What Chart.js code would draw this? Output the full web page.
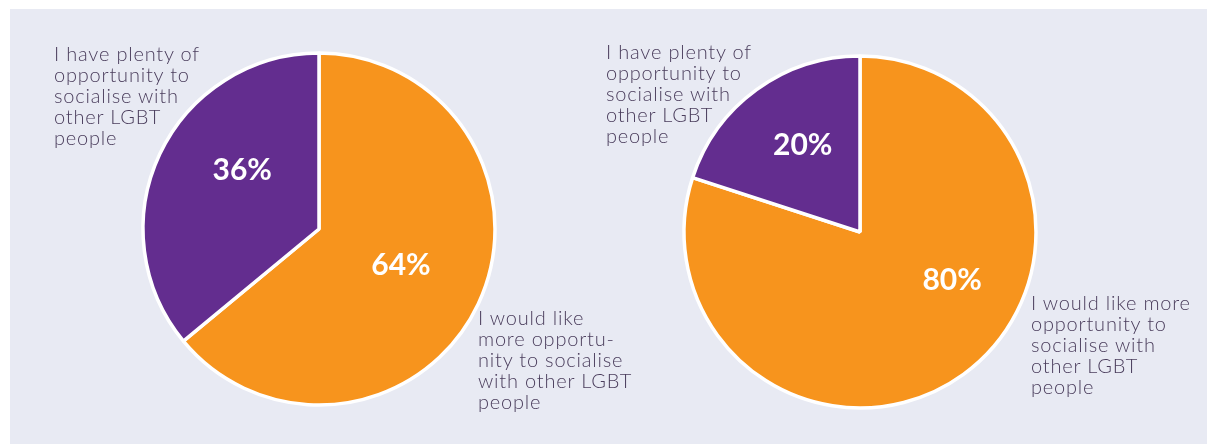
<!DOCTYPE html>
<html>
<head>
<meta charset="utf-8">
<script src="https://cdn.jsdelivr.net/npm/chart.js@4.4.1/dist/chart.umd.min.js"></script>
<style>
  html, body { margin: 0; padding: 0; background: #ffffff; }
  body { width: 1210px; height: 445px; position: relative; overflow: hidden; }
  #panel { position: absolute; left: 10px; top: 9px; width: 1197px; height: 435px; background: #e8eaf3; }
  .pie { position: absolute; width: 380px; height: 380px; }
  .cat { position: absolute; font-family: "Lato", "Open Sans", sans-serif; font-weight: 300;
         font-size: 20px; line-height: 21px; letter-spacing: 0.8px; color: #4a3d5c;
         white-space: nowrap; z-index: 2; }
</style>
</head>
<body>
<div id="panel"></div>
<canvas id="pieLeft" class="pie" width="380" height="380" style="left:129px;top:39px"></canvas>
<canvas id="pieRight" class="pie" width="380" height="380" style="left:670px;top:42px"></canvas>
<div id="catLeftA" class="cat" style="left:478px;top:307px"></div>
<div id="catLeftB" class="cat" style="left:54px;top:43px"></div>
<div id="catRightA" class="cat" style="left:1031px;top:292px"></div>
<div id="catRightB" class="cat" style="left:606px;top:41px"></div>
<script>
// Answer categories (same for both pies)
const categories = [
  'I would like more opportunity to socialise with other LGBT people',
  'I have plenty of opportunity to socialise with other LGBT people'
];
// Share of respondents, in percent
const leftValues = [64, 36];
const rightValues = [80, 20];
// Wrapped category text as set beside each pie
const leftCategoryLines = [
  ['I would like', 'more opportu-', 'nity to socialise', 'with other LGBT', 'people'],
  ['I have plenty of', 'opportunity to', 'socialise with', 'other LGBT', 'people']
];
const rightCategoryLines = [
  ['I would like more', 'opportunity to', 'socialise with', 'other LGBT', 'people'],
  ['I have plenty of', 'opportunity to', 'socialise with', 'other LGBT', 'people']
];
const sliceColors = ['#f7941d', '#632d8f'];

function fillCategory(id, lines) {
  const el = document.getElementById(id);
  lines.forEach((line, i) => {
    if (i) el.appendChild(document.createElement('br'));
    el.appendChild(document.createTextNode(line));
  });
}
fillCategory('catLeftA', leftCategoryLines[0]);
fillCategory('catLeftB', leftCategoryLines[1]);
fillCategory('catRightA', rightCategoryLines[0]);
fillCategory('catRightB', rightCategoryLines[1]);

// Writes each slice's percentage inside the pie, placed by (angle from top, fraction of radius)
const percentLabels = {
  id: 'percentLabels',
  afterDatasetsDraw(chart, args, opts) {
    const meta = chart.getDatasetMeta(0);
    const ctx = chart.ctx;
    ctx.save();
    ctx.fillStyle = '#ffffff';
    ctx.font = 'bold 30px "Lato", "Open Sans", sans-serif';
    ctx.textAlign = 'center';
    ctx.textBaseline = 'middle';
    meta.data.forEach((arc, i) => {
      const [deg, frac] = opts.places[i];
      const a = deg * Math.PI / 180;
      const r = arc.outerRadius * frac;
      const x = arc.x + Math.sin(a) * r;
      const y = arc.y - Math.cos(a) * r;
      ctx.fillText(chart.data.datasets[0].data[i] + '%', x, y);
    });
    ctx.restore();
  }
};

function makePie(id, values, places) {
  return new Chart(document.getElementById(id), {
    type: 'pie',
    data: {
      labels: categories,
      datasets: [{
        data: values,
        backgroundColor: sliceColors,
        borderColor: '#ffffff',
        borderWidth: 3.5,
        hoverOffset: 0
      }]
    },
    options: {
      responsive: false,
      animation: false,
      radius: 176,
      rotation: 0,
      layout: { padding: 0 },
      events: [],
      plugins: {
        legend: { display: false },
        tooltip: { enabled: false },
        percentLabels: { places: places }
      }
    },
    plugins: [percentLabels]
  });
}

makePie('pieLeft', leftValues, [[114, 0.51], [307.5, 0.55]]);
makePie('pieRight', rightValues, [[117.5, 0.59], [326.5, 0.59]]);
</script>
</body>
</html>
